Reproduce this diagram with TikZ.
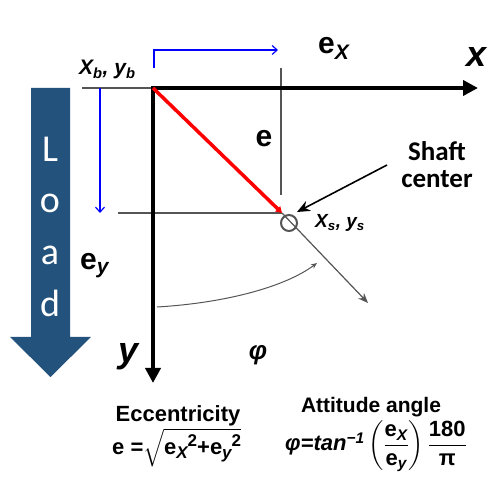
\documentclass[tikz,border=0pt]{standalone}
\usepackage{fontspec}
\setmainfont{Liberation Sans}
\newfontfamily\calib{Carlito}
\usepackage{amsmath}
\usetikzlibrary{arrows.meta}
\definecolor{loadblue}{RGB}{35,83,125}
\definecolor{guidegray}{RGB}{85,85,85}
\newcommand{\fs}[1]{\fontsize{#1}{#1}\selectfont}
\newcommand{\lowr}[1]{\raisebox{-4pt}{\fs{17}\itshape #1}}
\newcommand{\raisd}[1]{\raisebox{8pt}{\fs{17}#1}}

\begin{document}
\begin{tikzpicture}[x=1pt,y=-1pt,
    axis/.style={line width=4.5pt,line join=miter,{Triangle[length=15pt,width=15pt]}-{Triangle[length=15pt,width=15pt]}},
    guide/.style={guidegray,line width=1.5pt},
    bluearr/.style={blue,line width=1.2pt,-{Straight Barb[length=5pt,width=9pt]}},
    bi/.style={font=\bfseries\itshape\fs{#1},inner sep=0pt,anchor=base},
    bw/.style={font=\bfseries\fs{#1},inner sep=0pt,anchor=base},
    loadletter/.style={font=\calib\fs{38},text=white,inner sep=0pt,anchor=base}]
\useasboundingbox (0,0) rectangle (491,478);
\coordinate (O) at (153,88);
\coordinate (xend) at (478,88);
\coordinate (yend) at (153,383);
\coordinate (E) at (282,213);
\coordinate (S) at (289,223);
\coordinate (R) at (368,303);
\fill[loadblue] (31,88) -- (70,88) -- (70,337) -- (91,337) -- (50.5,377) -- (10,337) -- (31,337) -- cycle;
\node[loadletter] (lL) at (50,162) {L};
\node[loadletter] (lo) at (50,213) {o};
\node[loadletter] (la) at (50,265) {a};
\node[loadletter] (ld) at (50,317) {d};
\draw[guide] (82,88) -- (O);
\draw[guide] (281,68) -- (281,195);
\draw[guide] (118,213) -- (E);
\draw[bluearr] (154,68) -- (154,50) -- (278,50);
\draw[bluearr] (100,88) -- (100,213);
\draw[axis] (xend) -- (O) -- (yend);
\draw[red,line width=3.5pt,-{Triangle[length=6pt,width=7pt]}] (O) -- (E);
\draw[guide,line width=1.2pt,-{Stealth[length=10pt,width=8pt]}] (E) -- (R);
\draw[guide,line width=2pt] (S) circle (8);
\node[bi=36] (xlab) at (477,67) {x};
\node[bi=36] (ylab) at (129,363) {y};
\node[bw=30,anchor=base west] (exlab) at (318,54) {e\textsubscript{\itshape X}};
\node[bw=30] (elab) at (264,147) {e};
\node[bw=30,anchor=base west] (eylab) at (80,270) {e\textsubscript{\itshape y}};
\node[bi=21,anchor=base west] (blab) at (79,75) {X\textsubscript{b}, y\textsubscript{b}};
\node[bi=19,anchor=base west] (slab) at (315,228) {X\textsubscript{s}, y\textsubscript{s}};
\node[bi=26,anchor=center] (philab) at (258,355) {φ};
\node[font=\calib\bfseries\fs{27},align=center,inner sep=0pt] (shaft) at (437,165) {Shaft\\center};
\coordinate (ptr) at (387,165);
\draw[line width=1.6pt,-{Stealth[length=13pt,width=11pt]}] (ptr) -- (297,212);
\draw[guidegray,line width=1pt,-{Stealth[length=6pt,width=5pt]}] (157,307) .. controls (225,303) and (285,287) .. (317,263);
\node[bw=22] (ecc) at (178,422) {Eccentricity};
\node[bw=21] (att) at (371,413) {Attitude angle};
\node[bw=22,anchor=base west] (eform) at (112,455) {e =$\sqrt{\hbox{e\lowr{X}\raisd{2}+e\lowr{y}\raisd{2}}}$};
\node[bw=22,anchor=base west] (phiform) at (285,451) {{\itshape φ=tan\textsuperscript{−1}}\,$\left(\dfrac{\hbox{e\textsubscript{\itshape X}}}{\hbox{e\textsubscript{\itshape y}}}\right)\dfrac{\hbox{180}}{\hbox{π}}$};
\end{tikzpicture}
\end{document}
